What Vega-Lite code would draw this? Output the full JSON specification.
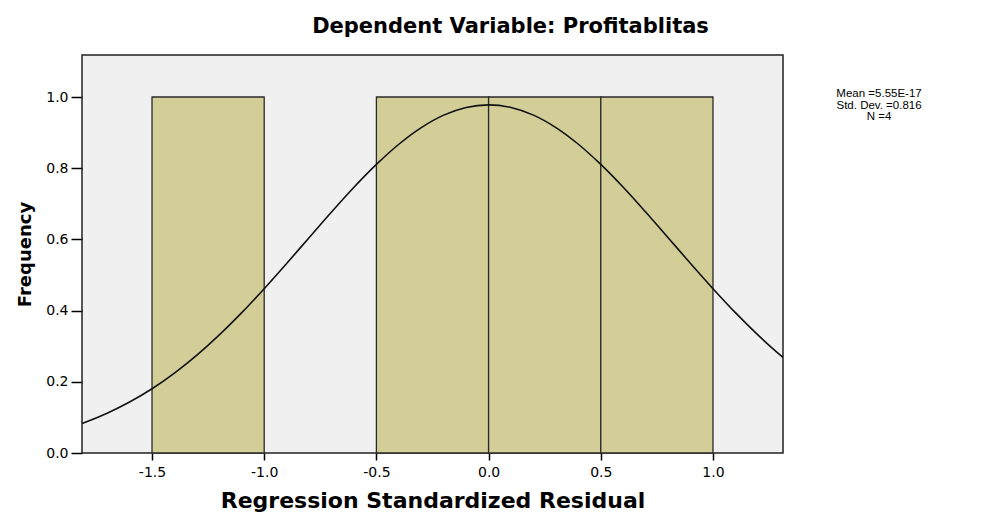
{
  "$schema": "https://vega.github.io/schema/vega-lite/v6.json",
  "width": 701,
  "height": 398,
  "autosize": {"type": "none"},
  "padding": {"left": 82, "top": 55, "right": 198, "bottom": 61},
  "background": "#ffffff",
  "title": {
    "text": "Dependent Variable: Profitablitas",
    "font": "DejaVu Sans",
    "fontSize": 21,
    "fontWeight": "bold",
    "color": "#000000",
    "anchor": "middle",
    "dx": 78,
    "baseline": "alphabetic",
    "offset": 1
  },
  "config": {
    "view": {"fill": "#f0f0f0", "stroke": "#222222", "strokeWidth": 1.5},
    "axis": {
      "grid": false,
      "domain": false,
      "tickColor": "#000000",
      "tickWidth": 1.5,
      "labelFont": "DejaVu Sans",
      "labelFontSize": 14,
      "labelColor": "#000000",
      "titleFont": "DejaVu Sans",
      "titleFontWeight": "bold",
      "titleColor": "#000000"
    }
  },
  "datasets": {
    "bins": [
      {"bin_start": -1.5, "bin_end": -1.0, "count": 1},
      {"bin_start": -0.5, "bin_end": 0.0, "count": 1},
      {"bin_start": 0.0, "bin_end": 0.5, "count": 1},
      {"bin_start": 0.5, "bin_end": 1.0, "count": 1}
    ],
    "curve": [
      {"x": -1.812, "y": 0.0831},
      {"x": -1.8, "y": 0.0858},
      {"x": -1.7, "y": 0.1117},
      {"x": -1.6, "y": 0.1431},
      {"x": -1.5, "y": 0.1805},
      {"x": -1.4, "y": 0.2245},
      {"x": -1.3, "y": 0.2749},
      {"x": -1.2, "y": 0.3317},
      {"x": -1.1, "y": 0.3942},
      {"x": -1.0, "y": 0.4616},
      {"x": -0.9, "y": 0.5323},
      {"x": -0.8, "y": 0.6048},
      {"x": -0.7, "y": 0.6769},
      {"x": -0.6, "y": 0.7464},
      {"x": -0.5, "y": 0.8106},
      {"x": -0.4, "y": 0.8673},
      {"x": -0.3, "y": 0.9141},
      {"x": -0.2, "y": 0.9491},
      {"x": -0.1, "y": 0.9707},
      {"x": 0.0, "y": 0.9778},
      {"x": 0.1, "y": 0.9707},
      {"x": 0.2, "y": 0.9491},
      {"x": 0.3, "y": 0.9141},
      {"x": 0.4, "y": 0.8673},
      {"x": 0.5, "y": 0.8106},
      {"x": 0.6, "y": 0.7464},
      {"x": 0.7, "y": 0.6769},
      {"x": 0.8, "y": 0.6048},
      {"x": 0.9, "y": 0.5323},
      {"x": 1.0, "y": 0.4616},
      {"x": 1.1, "y": 0.3942},
      {"x": 1.2, "y": 0.3317},
      {"x": 1.3, "y": 0.2749},
      {"x": 1.312, "y": 0.2685}
    ]
  },
  "layer": [
    {
      "data": {"name": "bins"},
      "mark": {"type": "rect", "fill": "#d3ce98", "stroke": "#2a2a2a", "strokeWidth": 1.3},
      "encoding": {
        "x": {
          "field": "bin_start",
          "type": "quantitative",
          "scale": {"domain": [-1.812, 1.312], "nice": false, "zero": false},
          "axis": {
            "values": [-1.5, -1.0, -0.5, 0.0, 0.5, 1.0],
            "labelExpr": "datum.value < 0 ? '-' + format(-datum.value, '.1f') : format(datum.value, '.1f')",
            "tickSize": 7,
            "labelPadding": 5,
            "title": "Regression Standardized Residual",
            "titleFontSize": 22,
            "titleBaseline": "alphabetic",
            "titleY": 54
          }
        },
        "x2": {"field": "bin_end"},
        "y": {
          "field": "count",
          "type": "quantitative",
          "scale": {"domain": [0, 1.118], "nice": false},
          "axis": {
            "values": [0, 0.2, 0.4, 0.6, 0.8, 1.0],
            "format": ".1f",
            "tickSize": 11,
            "labelPadding": 3,
            "title": "Frequency",
            "titleFontSize": 18,
            "titleBaseline": "alphabetic",
            "titleAlign": "center",
            "titleAngle": -90,
            "titleX": -52,
            "titleY": 199
          }
        },
        "y2": {"datum": 0}
      }
    },
    {
      "data": {"name": "curve"},
      "mark": {"type": "line", "color": "#111111", "strokeWidth": 1.6, "interpolate": "monotone", "clip": true},
      "encoding": {
        "x": {"field": "x", "type": "quantitative"},
        "y": {"field": "y", "type": "quantitative"}
      }
    },
    {
      "data": {"values": [{}]},
      "mark": {
        "type": "text",
        "font": "Liberation Sans",
        "fontSize": 11.5,
        "align": "center",
        "baseline": "alphabetic",
        "lineHeight": 11.5,
        "color": "#000000",
        "clip": false
      },
      "encoding": {
        "x": {"datum": 1.74, "type": "quantitative"},
        "y": {"datum": 1.0, "type": "quantitative"},
        "text": {"value": ["Mean =5.55E-17", "Std. Dev. =0.816", "N =4"]}
      }
    }
  ]
}
